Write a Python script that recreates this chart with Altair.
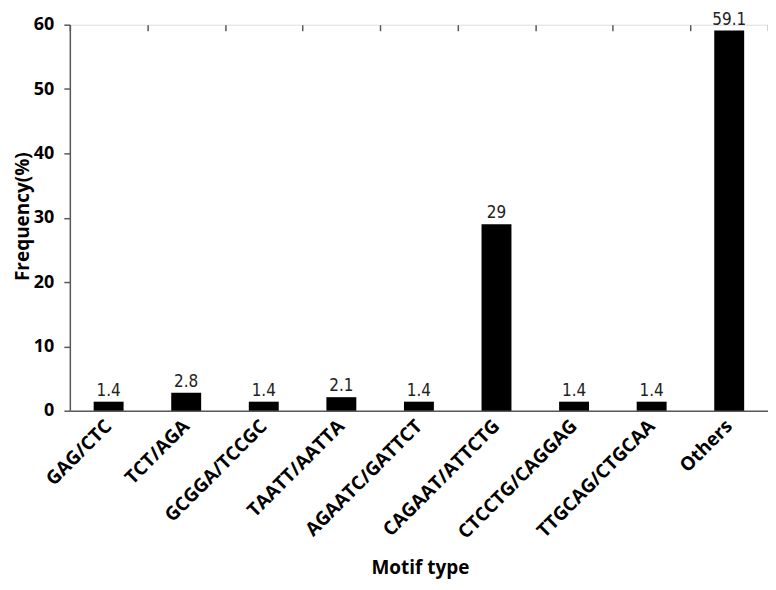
import altair as alt
import pandas as pd

motifs = ["GAG/CTC", "TCT/AGA", "GCGGA/TCCGC", "TAATT/AATTA", "AGAATC/GATTCT",
          "CAGAAT/ATTCTG", "CTCCTG/CAGGAG", "TTGCAG/CTGCAA", "Others"]
freq = [1.4, 2.8, 1.4, 2.1, 1.4, 29.0, 1.4, 1.4, 59.1]
y_ticks = [0, 10, 20, 30, 40, 50, 60]

df = pd.DataFrame({"motif": motifs, "freq": freq})

axis_col = "#595959"
FONT = "Open Sans"

x_main = alt.X(
    "motif:N", sort=motifs,
    scale=alt.Scale(paddingInner=0, paddingOuter=0),
    axis=alt.Axis(title="Motif type", labelAngle=-45, labelAlign="right", labelBaseline="middle",
                  labelFont=FONT, labelFontWeight="bold", labelFontSize=19, labelColor="black",
                  labelPadding=12, ticks=False, domainColor=axis_col, domainWidth=1.5,
                  titleFont=FONT, titleFontWeight="bold", titleFontSize=19, titleColor="black",
                  titleX=351, titleY=157, titleBaseline="middle", titleAlign="center"),
)

y_main = alt.Y(
    "freq:Q",
    scale=alt.Scale(domain=[0, 60], nice=False),
    axis=alt.Axis(title="Frequency(%)", values=y_ticks, grid=False,
                  labelFont=FONT, labelFontWeight="bold", labelFontSize=18, labelColor="black",
                  labelPadding=10, tickSize=6, tickColor=axis_col, domainColor=axis_col,
                  domainWidth=1.5, tickWidth=1.5,
                  titleFont=FONT, titleFontWeight="bold", titleFontSize=19, titleColor="black",
                  titleX=-47, titleY=192, titleBaseline="middle", titleAlign="center"),
)

bars = alt.Chart(df).mark_bar(color="black", size=30).encode(x=x_main, y=y_main)

text = alt.Chart(df).mark_text(baseline="bottom", dy=-2, font="DejaVu Sans Condensed, DejaVu Sans",
                               fontSize=17, color="#222222").encode(
    x=alt.X("motif:N", sort=motifs,
            axis=alt.Axis(labels=False, domain=False, title=None, ticks=True, tickBand="extent",
                          tickSize=6, offset=-6, tickColor=axis_col, tickWidth=1.5)),
    y=alt.Y("freq:Q"),
    text=alt.Text("freq:Q", format=".1~f"),
)

chart = alt.layer(bars, text).resolve_axis(x="independent").properties(
    width=700, height=387,
    autosize=alt.AutoSizeParams(type="none"),
    padding={"left": 62, "top": 16, "right": 0, "bottom": 171},
).configure_view(stroke=None).configure(background="white")

chart.save("out.html", embed_options={"renderer": "svg", "actions": False})
